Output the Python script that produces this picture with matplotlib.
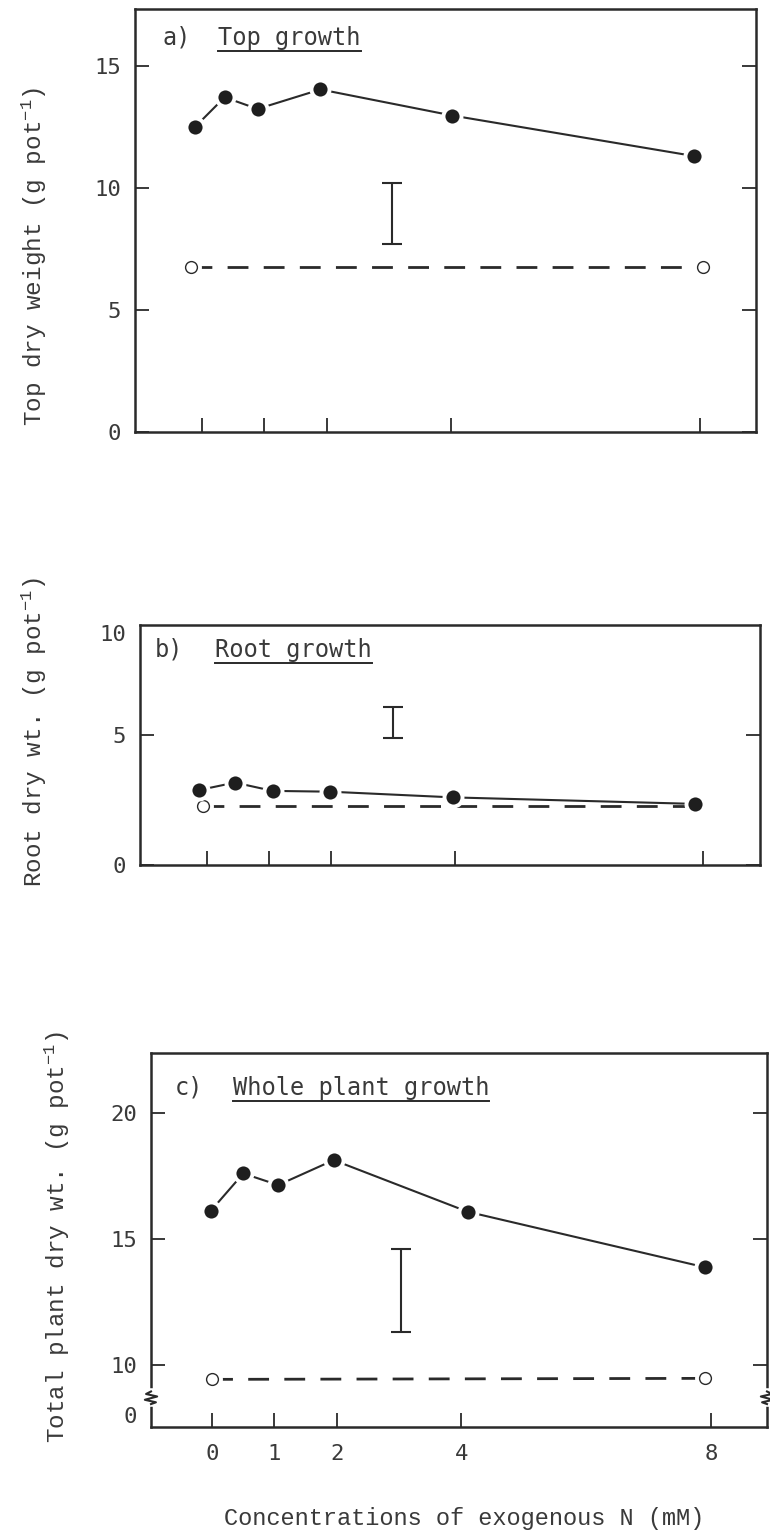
import matplotlib
matplotlib.use("Agg")
import matplotlib.pyplot as plt
from matplotlib.lines import Line2D
from matplotlib.transforms import blended_transform_factory

plt.rcParams['font.family'] = ['Liberation Mono', 'DejaVu Sans']
plt.rcParams['mathtext.fontset'] = 'custom'
plt.rcParams['mathtext.rm'] = 'Liberation Mono'
plt.rcParams['mathtext.it'] = 'Liberation Mono'
plt.rcParams['mathtext.default'] = 'regular'
plt.rcParams['lines.scale_dashes'] = False

# ---------------- data ----------------
# a) Top growth
a_x_n = [-0.12, 0.36, 0.89, 1.9, 4.02, 7.9]
a_y_n = [12.5, 13.73, 13.25, 14.05, 12.98, 11.32]
a_x_c = [-0.18, 8.05]
a_y_c = [6.75, 6.75]
a_err_x = 3.05
a_err_lo, a_err_hi = 7.71, 10.23

# b) Root growth
b_x_n = [-0.13, 0.45, 1.06, 1.98, 3.97, 7.87]
b_y_n = [2.88, 3.17, 2.85, 2.82, 2.6, 2.35]
b_x_c = [-0.06, 7.87]
b_y_c = [2.27, 2.27]
b_err_x = 3.0
b_err_lo, b_err_hi = 4.87, 6.06

# c) Whole plant growth
c_x_n = [-0.02, 0.5, 1.06, 1.95, 4.1, 7.9]
c_y_n = [16.12, 17.6, 17.14, 18.13, 16.08, 13.88]
c_x_c = [0.0, 7.9]
c_y_c = [9.43, 9.47]
c_err_x = 3.03
c_err_lo, c_err_hi = 11.3, 14.6

x_ticks = [0, 1, 2, 4, 8]
x_ticklabels = ['0', '1', '2', '4', '8']

a_yticks = [0, 5, 10, 15]
a_yticklabels = ['0', '5', '10', '15']
b_yticks = [0, 5, 8.92]
b_yticklabels = ['0', '5', '10']
c_yticks = [8.0, 10, 15, 20]
c_yticklabels = ['0', '10', '15', '20']

titles = [('a)', 'Top growth'), ('b)', 'Root growth'), ('c)', 'Whole plant growth')]
ylabels = ['Top dry weight (g pot$^{-1}$)',
           'Root dry wt. (g pot$^{-1}$)',
           'Total plant dry wt. (g pot$^{-1}$)']
xlabel = 'Concentrations of exogenous N (mM)'

# ---------------- figure ----------------
W, H = 770, 1534
fig = plt.figure(figsize=(W / 100, H / 100), dpi=100)
INK = '#2a2a2a'
TXT = '#3a3a3a'
MONO_SANS = ['DejaVu Sans Mono', 'DejaVu Sans']


def px_rect(l, t, r, b):
    return [l / W, 1 - b / H, (r - l) / W, (b - t) / H]


ax_a = fig.add_axes(px_rect(135, 9, 756, 432))
ax_b = fig.add_axes(px_rect(140, 625, 760, 865))
ax_c = fig.add_axes(px_rect(151, 1053, 767, 1427))

panels = [
    (ax_a, (-1.08, 8.9), (0, 17.35), a_yticks, a_yticklabels,
     a_x_n, a_y_n, a_x_c, a_y_c, a_err_x, a_err_lo, a_err_hi,
     (0.045, 0.915), 0.134, (-0.138, 0.416)),
    (ax_b, (-1.08, 8.92), (0, 9.23), b_yticks, b_yticklabels,
     b_x_n, b_y_n, b_x_c, b_y_c, b_err_x, b_err_lo, b_err_hi,
     (0.024, 0.867), 0.121, (-0.147, 0.554)),
    (ax_c, (-0.98, 8.9), (7.54, 22.38), c_yticks, c_yticklabels,
     c_x_n, c_y_n, c_x_c, c_y_c, c_err_x, c_err_lo, c_err_hi,
     (0.039, 0.888), 0.133, (-0.128, 0.508)),
]

title_objs = []
for i, (ax, xl, yl, yt, ytl, xn, yn, xc, yc, ex, elo, ehi,
        tpos, tx2, ylpos) in enumerate(panels):
    ax.set_xlim(*xl)
    ax.set_ylim(*yl)
    for s in ax.spines.values():
        s.set_linewidth(1.8)
        s.set_color(INK)
    ax.set_xticks(x_ticks)
    if i == 2:
        ax.set_xticklabels(x_ticklabels, family=MONO_SANS, fontsize=16, color=TXT)
    else:
        ax.set_xticklabels([])
    ax.set_yticks(yt)
    ax.set_yticklabels(ytl, family=MONO_SANS, fontsize=16, color=TXT)
    ax.tick_params(axis='x', direction='in', length=10, width=1.3, color=INK,
                   pad=12, bottom=True, top=False)
    ax.tick_params(axis='y', direction='in', length=10, width=1.3, color=INK,
                   pad=10, left=True, right=True)
    # label-only ticks (drawn by hand in the original without a tick mark)
    if i == 1:
        t = ax.yaxis.get_major_ticks()[2]
        t.tick1line.set_visible(False)
        t.tick2line.set_visible(False)
    if i == 2:
        t = ax.yaxis.get_major_ticks()[0]
        t.tick1line.set_visible(False)
        t.tick2line.set_visible(False)

    # control (dashed) series
    ax.plot(xc, yc, color=INK, lw=2.0, dashes=(15, 11), zorder=2,
            dash_capstyle='butt')
    ax.plot(xc, yc, linestyle='none', marker='o', markersize=14,
            markerfacecolor='white', markeredgecolor='white', zorder=3)
    ax.plot(xc, yc, linestyle='none', marker='o', markersize=8.5,
            markerfacecolor='white', markeredgecolor=INK, markeredgewidth=1.0,
            zorder=4)
    # N-supplied (solid) series
    ax.plot(xn, yn, color=INK, lw=1.5, marker='o', markersize=13,
            markerfacecolor='#1e1e1e', markeredgecolor='white',
            markeredgewidth=2.8, zorder=5)
    # LSD bar
    ax.errorbar([ex], [(elo + ehi) / 2], yerr=[(ehi - elo) / 2], fmt='none',
                ecolor=INK, elinewidth=1.5, capsize=7, capthick=1.5, zorder=4)

    # panel titles
    lab, ttl = titles[i]
    ax.text(tpos[0], tpos[1], lab, transform=ax.transAxes, fontsize=17,
            family=MONO_SANS, color=TXT, va='baseline', ha='left')
    tt = ax.text(tx2, tpos[1], ttl, transform=ax.transAxes, fontsize=17,
                 family=MONO_SANS, color=TXT, va='baseline', ha='left')
    title_objs.append((ax, tt, tpos[1]))

    ax.set_ylabel(ylabels[i], fontsize=17.5, color=TXT)
    ax.yaxis.set_label_coords(*ylpos)

ax_c.set_xlabel(xlabel, fontsize=17, color=TXT)
ax_c.xaxis.set_label_coords(0.509, -0.215)

# axis-break marks on panel c (left and right spines)
for xa, sgn in [(0.0, 1), (1.0, -1)]:
    tr = blended_transform_factory(ax_c.transAxes, ax_c.transData)
    ax_c.plot([xa, xa], [8.45, 8.95], color='white', lw=4, transform=tr,
              clip_on=False, zorder=6)
    zx = [xa, xa - 0.008 * sgn, xa + 0.010 * sgn, xa - 0.010 * sgn,
          xa + 0.008 * sgn, xa]
    zy = [8.95, 8.85, 8.75, 8.62, 8.52, 8.45]
    ax_c.plot(zx, zy, color=INK, lw=1.5, transform=tr, clip_on=False, zorder=7)

# underlines beneath the panel titles
fig.canvas.draw()
rend = fig.canvas.get_renderer()
for ax, tt, by in title_objs:
    bb = tt.get_window_extent(rend)
    base_px = ax.transAxes.transform((0, by))[1]
    ypx = base_px - 6
    fig.add_artist(Line2D([bb.x0 / W, bb.x1 / W], [ypx / H, ypx / H],
                          transform=fig.transFigure, color=INK, lw=1.4))

fig.savefig('out.png', dpi=100, facecolor='white')
